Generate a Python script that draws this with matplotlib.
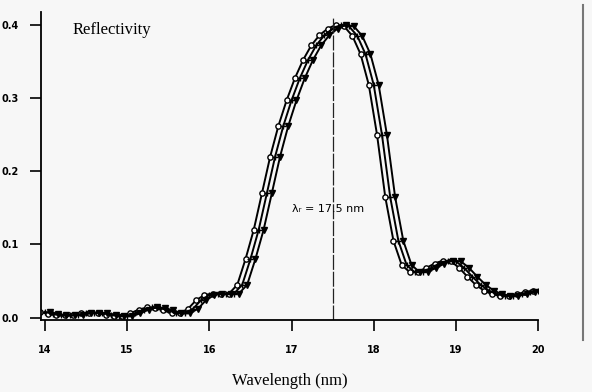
import numpy as np
import matplotlib
matplotlib.use("Agg")
import matplotlib.pyplot as plt
from matplotlib.lines import Line2D

# wavelength grid (nm) and reflectivity of the central curve
wavelength = [14.0, 14.1, 14.2, 14.3, 14.4, 14.5, 14.6, 14.7, 14.8, 14.9,
              15.0, 15.1, 15.2, 15.3, 15.4, 15.5, 15.6, 15.7, 15.8, 15.9,
              16.0, 16.1, 16.2, 16.3, 16.4, 16.5, 16.6, 16.7, 16.8, 16.9,
              17.0, 17.1, 17.2, 17.3, 17.4, 17.5, 17.6, 17.7, 17.8, 17.9,
              18.0, 18.1, 18.2, 18.3, 18.4, 18.5, 18.6, 18.7, 18.8, 18.9,
              19.0, 19.1, 19.2, 19.3, 19.4, 19.5, 19.6, 19.7, 19.8, 19.9,
              20.0]
reflectivity = [0.008, 0.005, 0.003, 0.003, 0.004, 0.006, 0.007, 0.006, 0.004, 0.002,
                0.002, 0.006, 0.011, 0.014, 0.013, 0.010, 0.006, 0.006, 0.012, 0.024,
                0.031, 0.033, 0.032, 0.033, 0.045, 0.080, 0.120, 0.170, 0.220, 0.262,
                0.297, 0.327, 0.352, 0.372, 0.386, 0.395, 0.400, 0.398, 0.385, 0.360,
                0.318, 0.250, 0.165, 0.105, 0.072, 0.062, 0.063, 0.068, 0.074, 0.078,
                0.077, 0.068, 0.056, 0.045, 0.037, 0.032, 0.030, 0.030, 0.032, 0.035,
                0.037]
# the three curves are the same profile shifted in wavelength
shifts = [-0.06, 0.0, 0.06]
markers = ['o', '+', 'v']
x_ticks = [14, 15, 16, 17, 18, 19, 20]
y_ticks = [0.0, 0.1, 0.2, 0.3, 0.4]
lambda_r = 17.5

bg = '#f7f7f7'
fig = plt.figure(figsize=(5.92, 3.92), dpi=100, facecolor=bg)
ax = fig.add_axes([0.069, 0.184, 0.840, 0.786], facecolor=bg)

x = np.array(wavelength)
y = np.array(reflectivity)
for s, m in zip(shifts, markers):
    mfc = 'white' if m == 'o' else 'black'
    ax.plot(x + s, y, color='black', lw=1.4, marker=m, ms=3.8,
            mfc=mfc, mec='black', mew=1.0)

ax.axvline(lambda_r, color='#222222', lw=0.9, dashes=(12, 1.5), ymax=0.98)
ax.text(17.44, 0.149, 'λᵣ = 17.5 nm', ha='center', va='center',
        fontsize=8, family='DejaVu Sans')
ax.text(14.33, 0.393, 'Reflectivity', ha='left', va='center',
        fontsize=12, family='Liberation Serif')

ax.set_xlim(13.95, 20.0)
ax.set_ylim(-0.003, 0.418)
ax.set_xticks(x_ticks)
ax.set_yticks(y_ticks)
ax.set_xticklabels([str(t) for t in x_ticks])
ax.set_yticklabels(['%.1f' % t for t in y_ticks])
for lab in ax.get_xticklabels() + ax.get_yticklabels():
    lab.set_fontsize(7)
    lab.set_fontweight('bold')
ax.tick_params(direction='out', length=8, width=1.2)
ax.tick_params(axis='y', pad=8)
ax.tick_params(axis='x', pad=10)
for side in ['top', 'right']:
    ax.spines[side].set_visible(False)
for side in ['left', 'bottom']:
    ax.spines[side].set_linewidth(1.3)

ax.set_xlabel('Wavelength (nm)', fontsize=12, family='Liberation Serif',
              labelpad=13)

# edge of the neighbouring panel
fig.add_artist(Line2D([583 / 592, 583 / 592], [1 - 340 / 392, 1 - 5 / 392],
                      color='#777777', lw=1.5))

fig.savefig('out.png', dpi=100, facecolor=bg)
